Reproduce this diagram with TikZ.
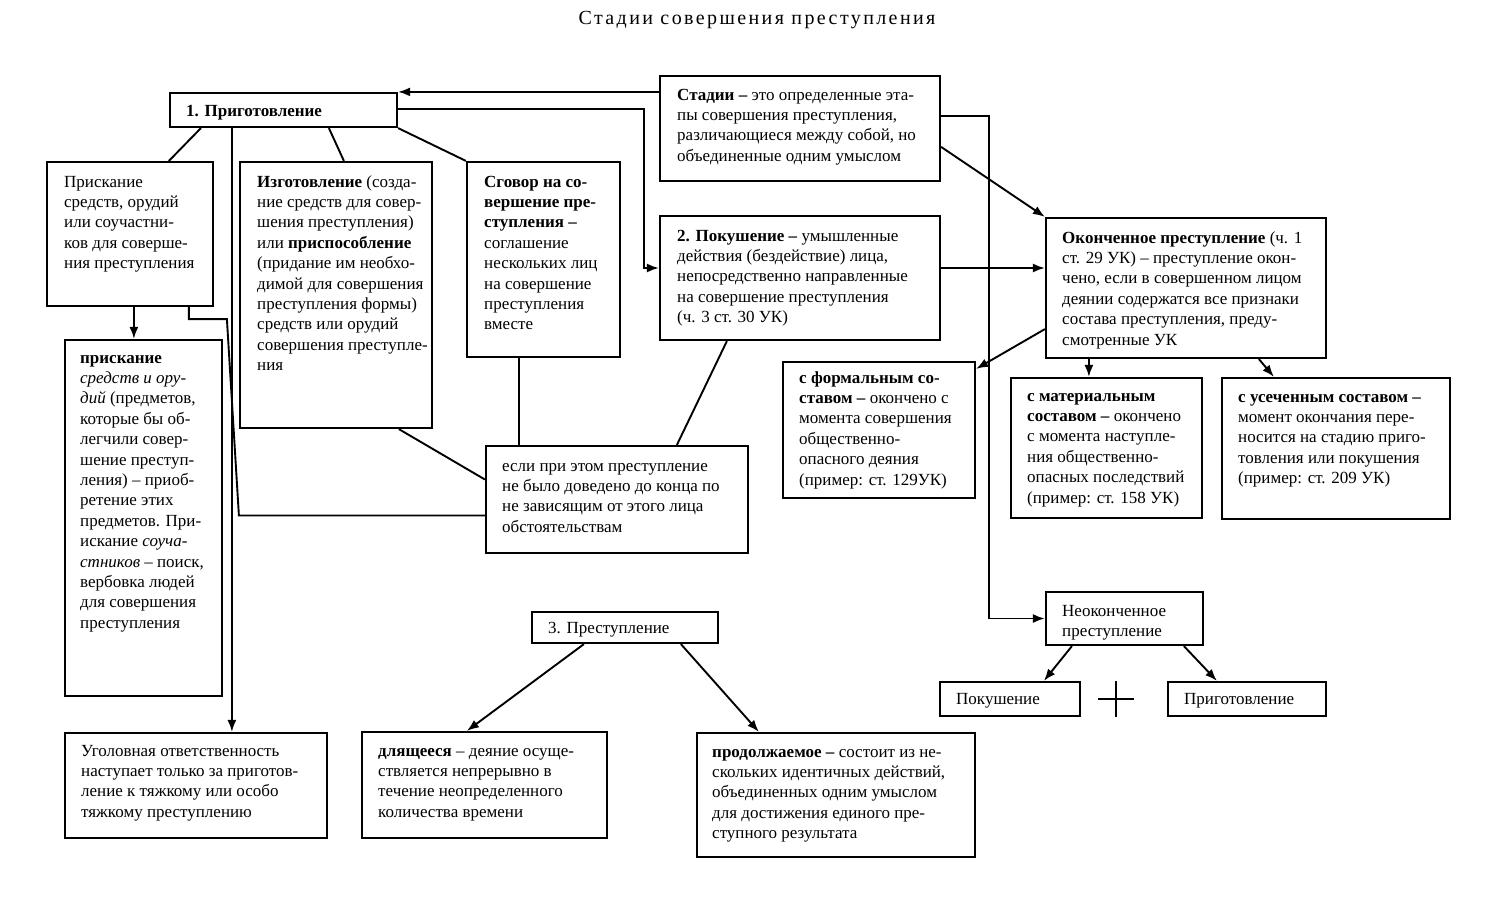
\documentclass[tikz,border=0pt]{standalone}
\usepackage{fontspec}
\setmainfont{Liberation Serif}
\newfontfamily\titlefont[LetterSpace=12]{Liberation Serif}
\usetikzlibrary{fit,arrows.meta,calc}
\newcommand\mybox[8]{%
  \coordinate (#1-a) at (#2,#3);
  \coordinate (#1-b) at (#4,#5);
  \node[boxst, fit=(#1-a)(#1-b)] (#1) {};
  \node[txt] (#1-t) at ($(#6,#7)+(0,-14.3)$) {\strut #8};
}
\begin{document}
\begin{tikzpicture}[x=1pt,y=-1pt,
  boxst/.style={draw, line width=2.2pt, inner sep=0pt},
  txt/.style={anchor=north west, align=left, inner sep=0pt, font=\fontsize{17}{20.4}\selectfont},
  con/.style={line width=1.9pt},
  arr/.style={line width=1.9pt, -{Latex[length=12pt,width=9pt]}}]
\useasboundingbox (0,0) rectangle (1485,919);

\node[font=\titlefont\fontsize{20}{24}\selectfont] (title) at (757,20) {Стадии совершения преступления};

\mybox{prig}{170}{93}{397}{127}{186}{116}{\textbf{1. Приготовление}}
\mybox{stadii}{660}{76}{940}{181}{677}{100}{\textbf{Стадии –} это определенные эта-\\пы совершения преступления,\\различающиеся между собой, но\\объединенные одним умыслом}
\mybox{poisk}{47}{162}{213}{306}{64}{187}{Прискание\\средств, орудий\\или  соучастни-\\ков для соверше-\\ния преступления}
\mybox{izgot}{240}{162}{432}{428}{257}{187}{\textbf{Изготовление} (созда-\\ние средств для совер-\\шения преступления)\\или \textbf{приспособление}\\(придание им необхо-\\димой для совершения\\преступления формы)\\средств или орудий\\совершения преступле-\\ния}
\mybox{sgovor}{467}{162}{620}{357}{484}{187}{\textbf{Сговор на со-}\\\textbf{вершение пре-}\\\textbf{ступления –}\\соглашение\\нескольких лиц\\на совершение\\преступления\\вместе}
\mybox{pokush}{660}{216}{940}{340}{677}{241}{\textbf{2. Покушение –} умышленные\\действия (бездействие) лица,\\непосредственно направленные\\на совершение преступления\\(ч. 3 ст. 30 УК)}
\mybox{okonch}{1046}{218}{1326}{358}{1062}{243}{\textbf{Оконченное преступление} (ч. 1\\ст. 29 УК) – преступление окон-\\чено, если в совершенном лицом\\деянии содержатся все признаки\\состава преступления, преду-\\смотренные УК}
\mybox{formal}{783}{362}{975}{498}{799}{383}{\textbf{с формальным со-}\\\textbf{ставом –} окончено с\\момента совершения\\общественно-\\опасного деяния\\(пример: ст. 129УК)}
\mybox{material}{1011}{378}{1202}{518}{1027}{401}{\textbf{с материальным}\\\textbf{составом –} окончено\\с момента наступле-\\ния общественно-\\опасных последствий\\(пример: ст. 158 УК)}
\mybox{usech}{1222}{378}{1450}{519}{1238}{402}{\textbf{с усеченным составом –}\\момент окончания пере-\\носится на стадию приго-\\товления или покушения\\(пример: ст. 209 УК)}
\mybox{esli}{486}{446}{748}{553}{502}{471}{если при этом преступление\\не было доведено до конца по\\не зависящим от этого лица\\обстоятельствам}
\mybox{priisk}{65}{340}{222}{696}{80}{363}{\textbf{прискание}\\\textit{средств и ору-}\\\textit{дий} (предметов,\\которые бы об-\\легчили совер-\\шение преступ-\\ления) – приоб-\\ретение этих\\предметов. При-\\искание \textit{соуча-}\\\textit{стников} – поиск,\\вербовка  людей\\для совершения\\преступления}
\mybox{ugol}{65}{733}{327}{838}{81}{756}{Уголовная ответственность\\наступает только за приготов-\\ление к тяжкому или особо\\тяжкому преступлению}
\mybox{prest}{532}{612}{718}{643}{548}{633}{3. Преступление}
\mybox{dlya}{362}{732}{607}{838}{378}{756}{\textbf{длящееся} – деяние осуще-\\ствляется непрерывно в\\течение неопределенного\\количества времени}
\mybox{prod}{697}{733}{975}{857}{712}{757}{\textbf{продолжаемое –} состоит из не-\\скольких идентичных действий,\\объединенных одним умыслом\\для достижения единого пре-\\ступного результата}
\mybox{neok}{1046}{592}{1203}{645}{1062}{616}{Неоконченное\\преступление}
\mybox{poks}{940}{682}{1080}{716}{956}{704}{Покушение}
\mybox{prigs}{1168}{682}{1326}{716}{1184}{704}{Приготовление}

% connectors
\draw[arr] ([yshift=-17pt]stadii.north west) -- (prig.north east);
\draw[arr] ([yshift=-17pt]prig.north east) -| ([xshift=-15pt,yshift=10pt]pokush.west) -- ([yshift=10pt]pokush.west);
\draw[arr] ([yshift=-41pt]stadii.north east) -- ++(48,0) |- (neok.west);
\draw[arr] ([yshift=-72pt]stadii.north east) -- (okonch.north west);
\draw[arr] ([yshift=10pt]pokush.east) -- ([yshift=10pt]pokush.east -| okonch.west);
\draw[arr] ([yshift=30pt]okonch.south west) -- ([yshift=-8pt]formal.north east);
\draw[arr] ([xshift=79pt]material.north west |- okonch.south) -- ([xshift=79pt]material.north west);
\draw[arr] ([xshift=214pt]okonch.south west) -- ([xshift=53pt]usech.north west);
\draw[con] ([xshift=32pt]prig.south west) -- ([xshift=123pt]poisk.north west);
\draw[arr] ([xshift=63pt]prig.south west) -- ([xshift=63pt]prig.south west |- ugol.north);
\draw[con] ([xshift=160pt]prig.south west) -- ([xshift=105pt]izgot.north west);
\draw[con] (prig.south east) -- (sgovor.north west);
\draw[arr] ([xshift=88pt]poisk.south west) -- ([xshift=70pt]priisk.north west);
\draw[con] ([xshift=143pt]poisk.south west) -- ++(0,12) -- ++(38,0) -- ([yshift=-16pt,xshift=-246pt]esli.west) -- ([yshift=-16pt]esli.west);
\draw[con] ([xshift=160pt]izgot.south west) -- ([yshift=20pt]esli.west);
\draw[con] ([xshift=53pt]sgovor.south west) -- ([xshift=34pt]esli.north west);
\draw[con] ([xshift=68pt]pokush.south west) -- ([xshift=192pt]esli.north west);
\draw[arr] ([xshift=53pt]prest.south west) -- ([xshift=106pt]dlya.north west);
\draw[arr] ([xshift=150pt]prest.south west) -- ([xshift=63pt]prod.north west);
\draw[arr] ([xshift=27pt]neok.south west) -- ([xshift=105pt]poks.north west);
\draw[arr] ([xshift=139pt]neok.south west) -- ([xshift=50pt]prigs.north west);
% plus sign
\draw[con] (1098,699) -- (1134,699);
\draw[con] (1116,681) -- (1116,717);
\end{tikzpicture}
\end{document}
